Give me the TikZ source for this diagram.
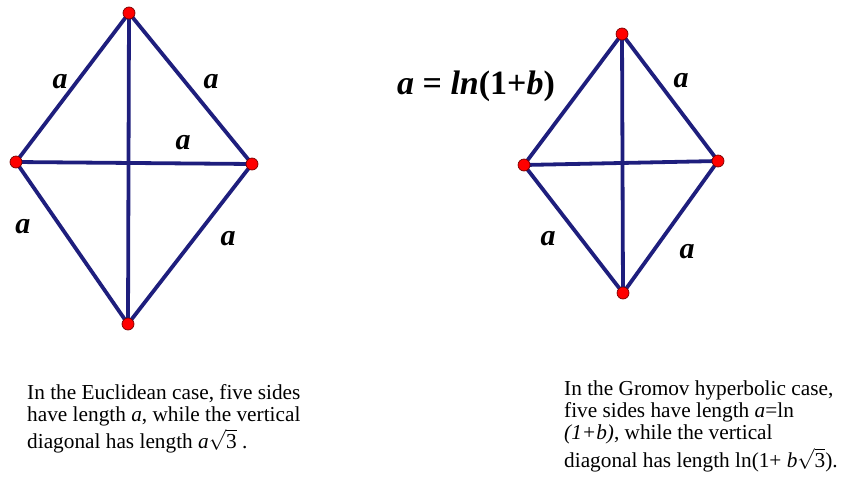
\documentclass[tikz,border=0pt]{standalone}
\usepackage{fontspec}
\setmainfont{Liberation Serif}
\begin{document}
\begin{tikzpicture}[x=1pt,y=-1pt,
  edge/.style={draw={rgb,255:red,30;green,30;blue,125}, line width=3.8pt},
  vtx/.style={circle, fill=red, draw={rgb,255:red,120;green,0;blue,0}, line width=0.7pt, inner sep=0pt, minimum size=12pt},
  lab/.style={font=\fontsize{30}{32}\selectfont\bfseries\itshape},
  txt/.style={anchor=base west, inner sep=0pt, align=left, font=\fontsize{21.3}{22}\selectfont}]
\useasboundingbox (0,0) rectangle (851,477);
% left diamond
\coordinate (LT) at (129,13);
\coordinate (LL) at (16,162);
\coordinate (LR) at (252,164);
\coordinate (LB) at (128,324);
\draw[edge] (LT) -- (LL) -- (LB) -- (LR) -- cycle;
\draw[edge] (LT) -- (LB);
\draw[edge] (LL) -- (LR);
\foreach \p in {LT,LL,LR,LB} \node[vtx] at (\p) {};
\node[lab] (l1) at (60,82) {a};
\node[lab] (l2) at (211,82) {a};
\node[lab] (l3) at (183,143) {a};
\node[lab] (l4) at (23,227) {a};
\node[lab] (l5) at (228,239) {a};
% right diamond
\coordinate (RT) at (622,34);
\coordinate (RL) at (524,165);
\coordinate (RR) at (718,161);
\coordinate (RB) at (623,293);
\draw[edge] (RT) -- (RL) -- (RB) -- (RR) -- cycle;
\draw[edge] (RT) -- (RB);
\draw[edge] (RL) -- (RR);
\foreach \p in {RT,RL,RR,RB} \node[vtx] at (\p) {};
\node[font=\fontsize{34}{36}\selectfont\bfseries] (eq) at (476,86) {\textit{a} = \textit{ln}(1+\textit{b})};
\node[lab] (r1) at (681,81) {a};
\node[lab] (r2) at (548,239) {a};
\node[lab] (r3) at (687,252) {a};
% captions
\node[txt] (cl) at (27,448) {In the Euclidean case, five sides\\
have length \textit{a}, while the vertical\\[2pt]
diagonal has length \textit{a}$\sqrt{\mbox{3}}$ .};
\node[txt] (cr) at (564,467) {In the Gromov hyperbolic case,\\
five sides have length \textit{a}=ln\\
\textit{(1+b)}, while the vertical\\[3pt]
diagonal has length ln(1+ \textit{b}$\sqrt{\mbox{3}}$).};
\end{tikzpicture}
\end{document}
